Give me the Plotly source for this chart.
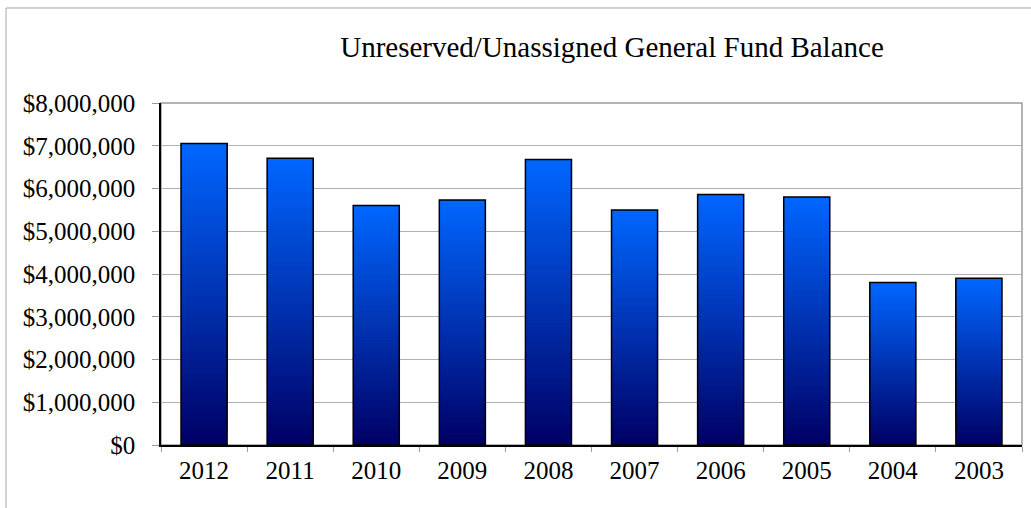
import plotly.graph_objects as go

years = ["2012", "2011", "2010", "2009", "2008", "2007", "2006", "2005", "2004", "2003"]
balances = [7050000, 6710000, 5600000, 5730000, 6680000, 5500000, 5860000, 5800000, 3800000, 3900000]
y_ticks = [0, 1000000, 2000000, 3000000, 4000000, 5000000, 6000000, 7000000, 8000000]
title_text = "Unreserved/Unassigned General Fund Balance"

FONT = "Times New Roman, Liberation Serif, serif"
BOTTOM = (0, 0, 102)
TOP = (0, 102, 255)
N = 80
BAR_W = 0.535

fig = go.Figure()
for i in range(N):
    t = i / (N - 1)
    c = tuple(round(BOTTOM[k] + (TOP[k] - BOTTOM[k]) * t) for k in range(3))
    fig.add_trace(go.Bar(
        x=years,
        y=[v * (1 - i / N) for v in balances],
        base=[v * i / N for v in balances],
        width=BAR_W,
        marker=dict(color="rgb(%d,%d,%d)" % c, line=dict(width=0)),
        hoverinfo="skip", showlegend=False,
    ))

fig.add_trace(go.Bar(
    x=years, y=balances, width=BAR_W,
    marker=dict(color="rgba(0,0,0,0)", line=dict(color="black", width=1.5)),
    showlegend=False,
))

fig.update_layout(
    width=1031, height=508,
    barmode="overlay",
    paper_bgcolor="white", plot_bgcolor="white",
    margin=dict(l=161, r=9, t=103, b=63),
    font=dict(family=FONT, size=20, color="black"),
    title=dict(text=title_text, x=0.5936, xref="container", xanchor="center",
               y=0.908, yref="container", yanchor="middle",
               font=dict(family=FONT, size=29, color="black")),
    shapes=[
        dict(type="rect", xref="paper", yref="paper", x0=-0.18, y0=-0.4, x1=1.2, y1=1.2778,
             line=dict(color="#a6a6a6", width=1), fillcolor="rgba(0,0,0,0)", layer="below"),
        dict(type="rect", xref="paper", yref="paper", x0=0, y0=0, x1=1, y1=1,
             line=dict(color="#9a9a9a", width=1.5), fillcolor="rgba(0,0,0,0)", layer="below"),
    ],
)

fig.update_yaxes(
    range=[0, 8000000], tickvals=y_ticks, tickformat="$,.0f",
    showgrid=True, gridcolor="#b0b0b0", gridwidth=1,
    showline=True, linecolor="black", linewidth=1.5,
    ticks="outside", ticklen=7, tickcolor="#9a9a9a",
    ticklabelstandoff=12,
    tickfont=dict(family=FONT, size=25, color="black"),
    zeroline=False,
)
fig.update_xaxes(
    type="category", showgrid=False,
    showline=True, linecolor="black", linewidth=1.5,
    ticks="outside", ticklen=5, tickcolor="#9a9a9a", tickson="boundaries",
    ticklabelstandoff=2,
    tickfont=dict(family=FONT, size=25, color="black"),
)

fig.write_html("out.html", config={"displayModeBar": False},
               post_script="document.body.style.margin='0';")
